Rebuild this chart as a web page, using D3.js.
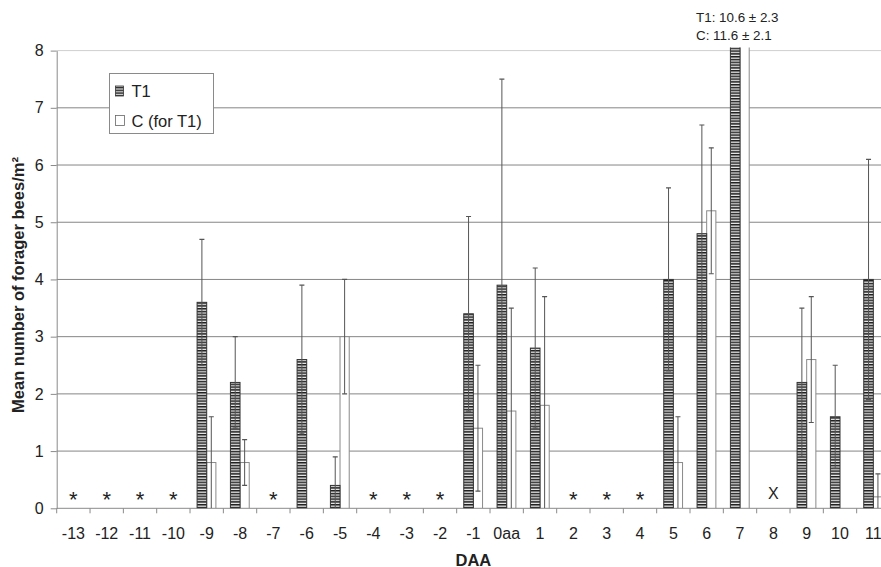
<!DOCTYPE html>
<html>
<head>
<meta charset="utf-8">
<script src="https://cdn.jsdelivr.net/npm/d3@7"></script>
<style>
  html, body { margin: 0; padding: 0; background: #fff; }
  svg { display: block; font-family: "Liberation Sans", Arial, sans-serif; }
</style>
</head>
<body>
<svg id="chart" width="881" height="567"></svg>
<script>
// ---- data ----
const categories = ["-13","-12","-11","-10","-9","-8","-7","-6","-5","-4","-3","-2","-1","0aa","1","2","3","4","5","6","7","8","9","10","11"];
const t1Mean = [null,null,null,null,3.6,2.2,null,2.6,0.4,null,null,null,3.4,3.9,2.8,null,null,null,4.0,4.8,10.6,null,2.2,1.6,4.0];
const t1Err  = [null,null,null,null,1.1,0.8,null,1.3,0.5,null,null,null,1.7,3.6,1.4,null,null,null,1.6,1.9,2.3,null,1.3,0.9,2.1];
const cMean  = [null,null,null,null,0.8,0.8,null,0,3.0,null,null,null,1.4,1.7,1.8,null,null,null,0.8,5.2,11.6,null,2.6,0,0.2];
const cErr   = [null,null,null,null,0.8,0.4,null,0,1.0,null,null,null,1.1,1.8,1.9,null,null,null,0.8,1.1,2.1,null,1.1,0,0.4];
const markers = {"-13":"*","-12":"*","-11":"*","-10":"*","-7":"*","-4":"*","-3":"*","-2":"*","2":"*","3":"*","4":"*","8":"X"};
const yTicks = [0,1,2,3,4,5,6,7,8];
const legendLabels = ["T1","C (for T1)"];
const noteLines = ["T1: 10.6 \u00b1 2.3","C: 11.6 \u00b1 2.1"];

// ---- layout ----
const svg = d3.select("#chart");
const pLeft = 56.7, pRight = 890, pTop = 50.6, pBottom = 508.3;
const x = d3.scaleBand().domain(categories).range([pLeft, pRight]).padding(0);
const y = d3.scaleLinear().domain([0, 8]).range([pBottom, pTop]);
const barW = 9.6;

const defs = svg.append("defs");
const pat = defs.append("pattern").attr("id","stripes").attr("patternUnits","userSpaceOnUse")
  .attr("width", 6).attr("height", 2.8);
pat.append("rect").attr("width",6).attr("height",2.8).attr("fill","#e8e8e8");
pat.append("rect").attr("width",6).attr("height",1.5).attr("fill","#1e1e1e");
defs.append("clipPath").attr("id","plotclip").append("rect")
  .attr("x", 0).attr("y", 47.5).attr("width", 900).attr("height", pBottom - 47.5);

// gridlines
svg.append("g").selectAll("line").data(yTicks.filter(d => d > 0)).join("line")
  .attr("x1", pLeft).attr("x2", pRight)
  .attr("y1", d => y(d)).attr("y2", d => y(d))
  .attr("stroke", d => d === 8 ? "#cfcfcf" : "#858585").attr("stroke-width", 1);

// axes
const yAxis = svg.append("g").attr("transform", `translate(${pLeft},0)`)
  .call(d3.axisLeft(y).tickValues(yTicks).tickSize(6).tickSizeOuter(0).tickPadding(7));
yAxis.select(".domain").attr("stroke", "#8a8a8a");
yAxis.selectAll(".tick line").attr("stroke", "#8a8a8a");
yAxis.selectAll(".tick text").attr("font-size", 16).attr("fill", "#222")
  .attr("font-family", "Liberation Sans, Arial, sans-serif");

const xAxisG = svg.append("g");
xAxisG.append("line").attr("x1", pLeft).attr("x2", pRight).attr("y1", pBottom).attr("y2", pBottom)
  .attr("stroke", "#8a8a8a");
const boundaries = categories.map(c => x(c)).concat([pRight]);
xAxisG.selectAll("line.tk").data(boundaries).join("line").attr("class","tk")
  .attr("x1", d => d).attr("x2", d => d).attr("y1", pBottom).attr("y2", pBottom + 5)
  .attr("stroke", "#8a8a8a");
xAxisG.selectAll("text").data(categories).join("text")
  .attr("x", d => x(d) + x.bandwidth() / 2).attr("y", 539)
  .attr("text-anchor", "middle").attr("font-size", 16).attr("fill", "#222")
  .text(d => d);

// bars
const plot = svg.append("g").attr("clip-path", "url(#plotclip)");
const idx = d3.range(categories.length);
const cx = i => x(categories[i]) + x.bandwidth() / 2;

plot.selectAll("rect.c").data(idx.filter(i => cMean[i] > 0)).join("rect").attr("class","c")
  .attr("x", i => cx(i)).attr("width", barW - 0.4)
  .attr("y", i => y(cMean[i])).attr("height", i => pBottom - y(cMean[i]))
  .attr("fill", "#fff").attr("stroke", "#8a8a8a").attr("stroke-width", 1);

plot.selectAll("rect.t1").data(idx.filter(i => t1Mean[i] > 0)).join("rect").attr("class","t1")
  .attr("x", i => cx(i) - barW).attr("width", barW)
  .attr("y", i => y(t1Mean[i])).attr("height", i => pBottom - y(t1Mean[i]))
  .attr("fill", "url(#stripes)").attr("stroke", "#333").attr("stroke-width", 1);

// error bars
function errorBars(meanArr, errArr, offset) {
  const data = idx.filter(i => meanArr[i] > 0 && errArr[i] > 0);
  const g = plot.append("g").selectAll("g").data(data).join("g");
  const ex = i => cx(i) + offset;
  g.append("line").attr("x1", ex).attr("x2", ex)
    .attr("y1", i => y(meanArr[i] + errArr[i])).attr("y2", i => y(Math.max(0, meanArr[i] - errArr[i])))
    .attr("stroke", "#555").attr("stroke-width", 1);
  g.append("line").attr("x1", i => ex(i) - 2.5).attr("x2", i => ex(i) + 2.5)
    .attr("y1", i => y(meanArr[i] + errArr[i])).attr("y2", i => y(meanArr[i] + errArr[i]))
    .attr("stroke", "#555").attr("stroke-width", 1.2);
  g.filter(i => meanArr[i] - errArr[i] > 0.05).append("line")
    .attr("x1", i => ex(i) - 2.5).attr("x2", i => ex(i) + 2.5)
    .attr("y1", i => y(meanArr[i] - errArr[i])).attr("y2", i => y(meanArr[i] - errArr[i]))
    .attr("stroke", "#555").attr("stroke-width", 1.2);
}
errorBars(t1Mean, t1Err, -barW / 2);
errorBars(cMean, cErr, (barW - 0.4) / 2);

// markers (* and X)
svg.append("g").selectAll("text").data(Object.keys(markers)).join("text")
  .attr("x", d => x(d) + x.bandwidth() / 2)
  .attr("y", d => markers[d] === "X" ? 498.5 : 507)
  .attr("text-anchor", "middle").attr("font-size", d => markers[d] === "X" ? 16 : 22)
  .attr("fill", "#222").text(d => markers[d]);

// annotation above bar 7
svg.append("g").selectAll("text").data(noteLines).join("text")
  .attr("x", 696).attr("y", (d, i) => 21.5 + i * 18.5)
  .attr("font-size", 13.4).attr("fill", "#222").text(d => d);

// legend
const lg = svg.append("g");
lg.append("rect").attr("x", 109.5).attr("y", 73.5).attr("width", 104).attr("height", 60)
  .attr("fill", "#fff").attr("stroke", "#8a8a8a");
lg.append("rect").attr("x", 115.5).attr("y", 86).attr("width", 8).attr("height", 10)
  .attr("fill", "url(#stripes)").attr("stroke", "#333").attr("stroke-width", 0.8);
lg.append("rect").attr("x", 115.5).attr("y", 115.5).attr("width", 9).attr("height", 10)
  .attr("fill", "#fff").attr("stroke", "#666").attr("stroke-width", 0.8);
lg.selectAll("text").data(legendLabels).join("text")
  .attr("x", 131.5).attr("y", (d, i) => 97 + i * 29.5)
  .attr("font-size", 16.5).attr("fill", "#222").text(d => d);

// axis titles
svg.append("text").attr("transform", "translate(24,285) rotate(-90)")
  .attr("text-anchor", "middle").attr("font-size", 16.5).attr("font-weight", "bold").attr("fill", "#222")
  .text("Mean number of forager bees/m\u00b2");
svg.append("text").attr("x", (pLeft + pRight) / 2).attr("y", 565.5)
  .attr("text-anchor", "middle").attr("font-size", 16.5).attr("font-weight", "bold").attr("fill", "#222")
  .text("DAA");
</script>
</body>
</html>
